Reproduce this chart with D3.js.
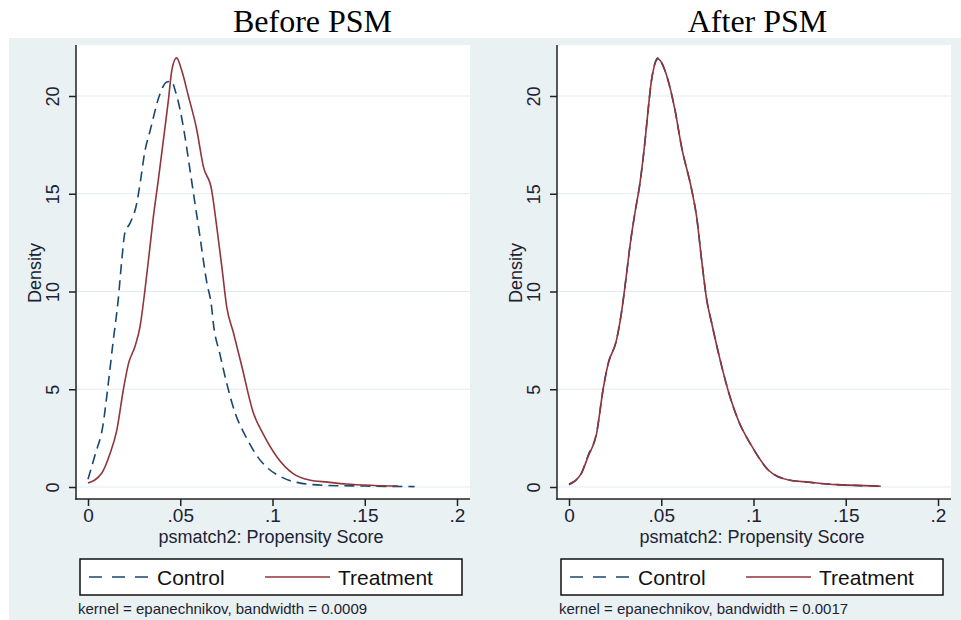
<!DOCTYPE html>
<html>
<head>
<meta charset="utf-8">
<script src="https://cdn.jsdelivr.net/npm/d3@7"></script>
<style>
  body { margin: 0; background: #fff; }
  svg { display: block; }
  .sans { font-family: Arial, "Liberation Sans", sans-serif; }
</style>
</head>
<body>
<svg id="chart" width="961" height="620"></svg>
<script>
// tick values and labels
const xTicks = [0, 0.05, 0.1, 0.15, 0.2];
const xTickLabels = ['0', '.05', '.1', '.15', '.2'];
const yTicks = [0, 5, 10, 15, 20];
const seriesNames = ['Control', 'Treatment'];
const panelTitles = ['Before PSM', 'After PSM'];
const bandwidths = ['0.0009', '0.0017'];

// [propensity score, density]
const beforeControl = [
  [0.000, 0.4], [0.004, 1.7], [0.008, 3.1], [0.011, 5.3], [0.0137, 7.5], [0.0164, 9.6],
  [0.0183, 11.6], [0.020, 13.0], [0.0228, 13.5], [0.0264, 14.5], [0.0282, 15.5],
  [0.0309, 17.2], [0.0336, 18.2], [0.039, 20.1], [0.0425, 20.7], [0.0454, 20.75],
  [0.0472, 20.3], [0.0499, 19.3], [0.0526, 17.9], [0.0553, 16.2], [0.058, 14.5],
  [0.0607, 12.8], [0.0643, 10.5], [0.067, 9.2], [0.0679, 8.4], [0.0715, 6.8],
  [0.0752, 5.3], [0.0797, 3.8], [0.086, 2.5], [0.0915, 1.6], [0.097, 1.0], [0.104, 0.55],
  [0.115, 0.2], [0.13, 0.08], [0.15, 0.05], [0.165, 0.03], [0.177, 0.02]
];
const beforeTreatment = [
  [0.000, 0.2], [0.0074, 0.7], [0.0119, 1.7], [0.0156, 2.9], [0.0192, 5.0], [0.0219, 6.3],
  [0.0255, 7.2], [0.0282, 8.2], [0.0309, 10.1], [0.0336, 12.3], [0.0354, 13.8],
  [0.0381, 15.7], [0.0408, 17.7], [0.0436, 19.8], [0.0454, 21.3], [0.048, 21.95],
  [0.0508, 21.3], [0.0544, 20.0], [0.0589, 18.3], [0.0625, 16.4], [0.067, 15.2],
  [0.0698, 13.3], [0.0725, 11.3], [0.0752, 9.2], [0.0788, 7.9], [0.0833, 6.2],
  [0.0896, 3.8], [0.095, 2.7], [0.1023, 1.55], [0.111, 0.7], [0.120, 0.36], [0.13, 0.25],
  [0.14, 0.15], [0.155, 0.08], [0.168, 0.05]
];
const afterControl = [
  [0.000, 0.12], [0.0067, 0.7], [0.0103, 1.6], [0.0149, 2.75], [0.0185, 5.0], [0.0212, 6.3],
  [0.0257, 7.5], [0.0284, 8.9], [0.0312, 10.9], [0.033, 12.3], [0.0357, 14.0],
  [0.0384, 15.5], [0.0411, 17.6], [0.0429, 19.3], [0.0447, 20.8], [0.0483, 21.95],
  [0.052, 21.3], [0.0574, 19.3], [0.061, 17.4], [0.0665, 15.2], [0.0692, 13.8],
  [0.0719, 11.6], [0.0746, 9.6], [0.0773, 8.4], [0.0819, 6.5], [0.0873, 4.6],
  [0.0918, 3.4], [0.099, 2.1], [0.108, 0.87], [0.119, 0.36], [0.13, 0.24], [0.145, 0.12],
  [0.16, 0.07], [0.169, 0.04]
];
const afterTreatment = [
  [0.000, 0.15], [0.0067, 0.7], [0.0103, 1.55], [0.0149, 2.7], [0.0185, 5.0], [0.0212, 6.3],
  [0.0257, 7.5], [0.0284, 8.9], [0.0312, 10.9], [0.033, 12.3], [0.0357, 14.0],
  [0.0384, 15.5], [0.0411, 17.6], [0.0429, 19.3], [0.0447, 20.8], [0.0484, 21.9],
  [0.052, 21.3], [0.0574, 19.3], [0.061, 17.4], [0.0665, 15.2], [0.0692, 13.8],
  [0.0719, 11.6], [0.0746, 9.6], [0.0773, 8.4], [0.0819, 6.5], [0.0873, 4.6],
  [0.0918, 3.4], [0.099, 2.1], [0.108, 0.87], [0.119, 0.36], [0.13, 0.25], [0.145, 0.12],
  [0.16, 0.07], [0.169, 0.04]
];

const colors = { control: '#1a476f', treatment: '#90353b' };
const bg = '#eaf1f3';
const grid = '#e2ebef';
const ink = '#222';

const svg = d3.select('#chart');

// stata-like outer background
svg.append('rect')
   .attr('x', 9).attr('y', 38)
   .attr('width', 952).attr('height', 582)
   .attr('fill', bg);

function drawPanel(left, titleX, title, control, treatment, bw) {
    const plot = { x0: left, x1: left + 394, y0: 45, y1: 499 };

    const x = d3.scaleLinear().domain([0, 0.2]).range([left + 12, left + 381]);
    const y = d3.scaleLinear().domain([0, 20]).range([487, 96]);

    const g = svg.append('g');

    g.append('rect')
       .attr('x', plot.x0).attr('y', plot.y0)
       .attr('width', plot.x1 - plot.x0).attr('height', plot.y1 - plot.y0)
       .attr('fill', '#fff');

    // gridlines
    g.selectAll('line.grid')
       .data(yTicks)
       .join('line')
       .attr('class', 'grid')
       .attr('x1', plot.x0).attr('x2', plot.x1)
       .attr('y1', d => y(d)).attr('y2', d => y(d))
       .attr('stroke', grid).attr('stroke-width', 1.2);

    // axes
    const yAxis = g.append('g')
       .attr('transform', `translate(${plot.x0},0)`)
       .call(d3.axisLeft(y).tickValues(yTicks).tickSize(7));
    yAxis.select('.domain').remove();
    yAxis.selectAll('.tick line').attr('stroke', ink).attr('stroke-width', 1.5);
    yAxis.selectAll('.tick text')
       .attr('x', null).attr('dy', null)
       .attr('transform', 'translate(-17,0) rotate(-90)')
       .attr('text-anchor', 'middle')
       .attr('fill', '#1c2235')
       .style('font-family', 'Arial, "Liberation Sans", sans-serif')
       .style('font-size', '18px');

    const xAxis = g.append('g')
       .attr('transform', `translate(0,${plot.y1})`)
       .call(d3.axisBottom(x).tickValues(xTicks).tickSize(7).tickPadding(2.5)
           .tickFormat((d, i) => xTickLabels[i]));
    xAxis.select('.domain').remove();
    xAxis.selectAll('.tick line').attr('stroke', ink).attr('stroke-width', 1.5);
    xAxis.selectAll('.tick text')
       .attr('fill', '#1c2235')
       .style('font-family', 'Arial, "Liberation Sans", sans-serif')
       .style('font-size', '19px');

    g.append('line')
       .attr('x1', plot.x0).attr('x2', plot.x0)
       .attr('y1', plot.y0).attr('y2', plot.y1 + 0.75)
       .attr('stroke', ink).attr('stroke-width', 1.5);
    g.append('line')
       .attr('x1', plot.x0 - 0.75).attr('x2', plot.x1)
       .attr('y1', plot.y1).attr('y2', plot.y1)
       .attr('stroke', ink).attr('stroke-width', 1.5);

    // density curves
    const line = d3.line()
       .x(d => x(d[0]))
       .y(d => y(d[1]))
       .curve(d3.curveMonotoneX);

    g.append('path')
       .datum(control)
       .attr('d', line)
       .attr('fill', 'none')
       .attr('stroke', colors.control)
       .attr('stroke-width', 1.6)
       .attr('stroke-dasharray', '10,6');

    g.append('path')
       .datum(treatment)
       .attr('d', line)
       .attr('fill', 'none')
       .attr('stroke', colors.treatment)
       .attr('stroke-width', 1.6);

    // titles
    g.append('text')
       .attr('x', titleX).attr('y', 32)
       .attr('text-anchor', 'middle')
       .style('font-family', '"Liberation Serif", "Times New Roman", serif')
       .style('font-size', '32px')
       .text(title);

    g.append('text')
       .attr('class', 'sans')
       .attr('x', left + 195).attr('y', 543)
       .attr('text-anchor', 'middle')
       .attr('fill', '#1c2235')
       .style('font-size', '18px')
       .text('psmatch2: Propensity Score');

    g.append('text')
       .attr('class', 'sans')
       .attr('transform', `translate(${left - 35},273) rotate(-90)`)
       .attr('text-anchor', 'middle')
       .attr('fill', '#1c2235')
       .style('font-size', '18px')
       .text('Density');

    // legend
    const lg = g.append('g').attr('transform', `translate(${left + 4},559)`);
    lg.append('rect')
       .attr('width', 382).attr('height', 36)
       .attr('fill', '#fff')
       .attr('stroke', '#111').attr('stroke-width', 1.5);
    lg.append('line')
       .attr('x1', 9).attr('x2', 68).attr('y1', 18).attr('y2', 18)
       .attr('stroke', colors.control).attr('stroke-width', 1.6)
       .attr('stroke-dasharray', '13,10');
    lg.append('text')
       .attr('class', 'sans')
       .attr('x', 77).attr('y', 26)
       .style('font-size', '21px')
       .attr('fill', '#111')
       .text(seriesNames[0]);
    lg.append('line')
       .attr('x1', 185).attr('x2', 250).attr('y1', 18).attr('y2', 18)
       .attr('stroke', colors.treatment).attr('stroke-width', 1.6);
    lg.append('text')
       .attr('class', 'sans')
       .attr('x', 258).attr('y', 26)
       .style('font-size', '21px')
       .attr('fill', '#111')
       .text(seriesNames[1]);

    g.append('text')
       .attr('class', 'sans')
       .attr('x', left + 2).attr('y', 614)
       .attr('fill', '#1c2235')
       .style('font-size', '15px')
       .text(`kernel = epanechnikov, bandwidth = ${bw}`);
}

drawPanel(76, 312.5, panelTitles[0], beforeControl, beforeTreatment, bandwidths[0]);
drawPanel(557, 757.5, panelTitles[1], afterControl, afterTreatment, bandwidths[1]);
</script>
</body>
</html>
